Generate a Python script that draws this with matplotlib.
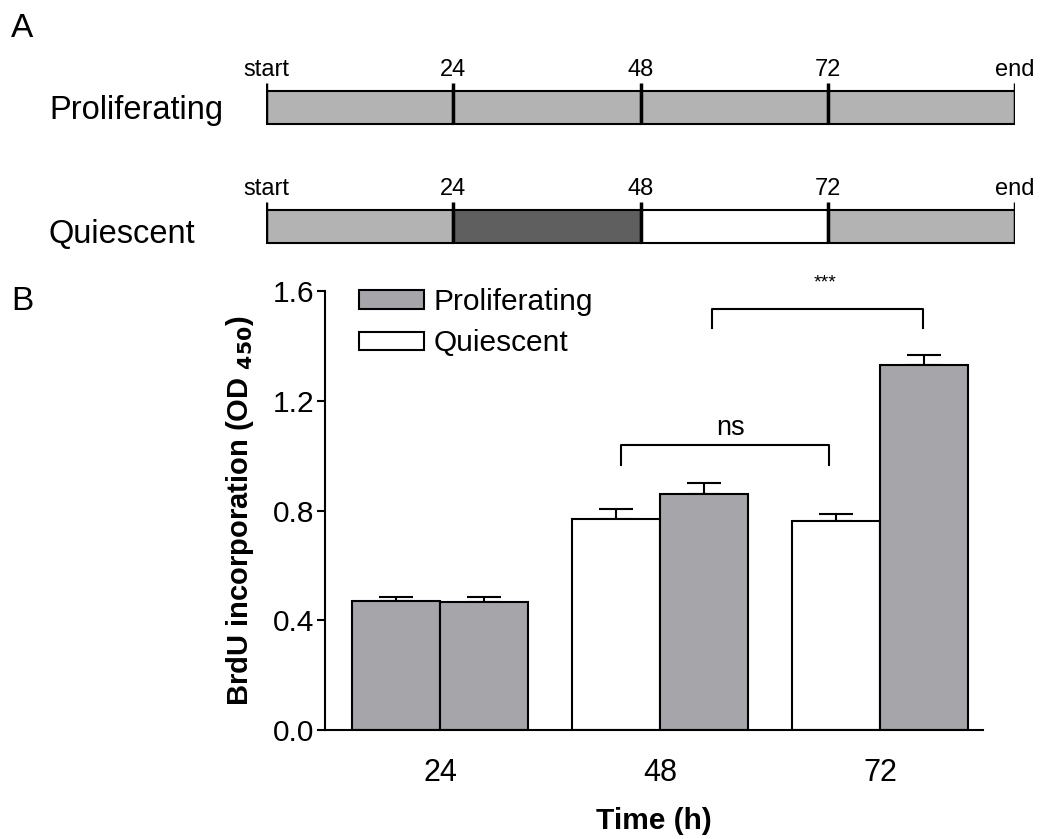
import matplotlib
matplotlib.use("Agg")
import matplotlib.pyplot as plt
import numpy as np
from matplotlib.patches import Patch

plt.rcParams['font.family'] = ['Liberation Sans', 'DejaVu Sans']

# panel A: timeline
hours = [0, 24, 48, 72, 96]
hour_labels = ['start', '24', '48', '72', 'end']
prolif_segments = ['#b3b3b3', '#b3b3b3', '#b3b3b3', '#b3b3b3']
quiesc_segments = ['#b3b3b3', '#5f5f5f', '#ffffff', '#b3b3b3']

# panel B: BrdU incorporation
times = ['24', '48', '72']
quiescent = [0.470, 0.769, 0.762]
quiescent_err = [0.015, 0.036, 0.025]
proliferating = [0.466, 0.860, 1.330]
proliferating_err = [0.019, 0.040, 0.037]
quiescent_colors = ['#a5a5aa', '#ffffff', '#ffffff']

GRAY = '#a5a5aa'


def draw_timeline(ax):
  row_h = 0.277
  rows = {'Proliferating': (1, prolif_segments), 'Quiescent': (0, quiesc_segments)}
  for name, (y, colors) in rows.items():
    for i, c in enumerate(colors):
      ax.barh(y, hours[i + 1] - hours[i], left=hours[i], height=row_h,
              color=c, edgecolor='black', linewidth=1.5)
    top = y + row_h / 2
    ax.vlines(hours, y - row_h / 2, top + 0.07, color='black', linewidth=2.5)
    for h, lab in zip(hours, hour_labels):
      ax.text(h, top + 0.085, lab, ha='center', va='bottom', fontsize=17)
  ax.set_xlim(0, 96)
  ax.set_ylim(-0.197, 1.40)
  ax.axis('off')


def draw_bars(ax):
  x = np.arange(len(times))
  w = 0.4
  ax.bar(x - w / 2, quiescent, width=w, color=quiescent_colors,
         edgecolor='black', linewidth=1.5, zorder=2)
  ax.bar(x + w / 2, proliferating, width=w, color=GRAY,
         edgecolor='black', linewidth=1.5, zorder=2)
  ax.errorbar(x - w / 2, quiescent, yerr=[np.zeros(3), quiescent_err],
              fmt='none', ecolor='black', elinewidth=1.5, capsize=12,
              capthick=1.5, zorder=1)
  ax.errorbar(x + w / 2, proliferating, yerr=[np.zeros(3), proliferating_err],
              fmt='none', ecolor='black', elinewidth=1.5, capsize=12,
              capthick=1.5, zorder=1)

  # significance brackets
  for x0, x1, ytop, yend, label, tx, ty, fs in [
      (0.823, 1.768, 1.039, 0.966, 'ns', 1.32, 1.055, 19.5),
      (1.236, 2.195, 1.534, 1.465, '***', 1.75, 1.60, 14)]:
    ax.plot([x0, x0, x1, x1], [yend, ytop, ytop, yend], color='black',
            linewidth=1.5, clip_on=False)
    ax.text(tx, ty, label, ha='center', va='bottom', fontsize=fs)

  ax.set_xlim(-0.523, 2.468)
  ax.set_ylim(0, 1.6)
  ax.set_yticks([0.0, 0.4, 0.8, 1.2, 1.6])
  ax.set_yticklabels(['0.0', '0.4', '0.8', '1.2', '1.6'])
  ax.set_xticks(x)
  ax.set_xticklabels(times)
  ax.tick_params(axis='y', labelsize=21.5, length=6, width=1.5, pad=2)
  ax.tick_params(axis='x', labelsize=22, length=0, pad=20)
  for s in ['top', 'right']:
    ax.spines[s].set_visible(False)
  for s in ['left', 'bottom']:
    ax.spines[s].set_linewidth(1.5)
  ax.set_xlabel('Time (h)', fontsize=21.5, fontweight='bold', labelpad=14)
  ax.set_ylabel('BrdU incorporation (OD $_{\\mathbf{450}}$)', fontsize=21,
                fontweight='bold', labelpad=12)

  handles = [Patch(facecolor=GRAY, edgecolor='black', linewidth=1.5),
             Patch(facecolor='white', edgecolor='black', linewidth=1.5)]
  ax.legend(handles, ['Proliferating', 'Quiescent'], loc='upper left',
            bbox_to_anchor=(359 / 1048, 1 - 288 / 839),
            bbox_transform=ax.figure.transFigure, frameon=False,
            fontsize=21.5, handlelength=2.17, handleheight=0.57,
            handletextpad=0.33, labelspacing=0.45, borderpad=0,
            borderaxespad=0)


def main():
  fig = plt.figure(figsize=(10.48, 8.39), dpi=100)

  ax_a = fig.add_axes([266 / 1048, 1 - 250 / 839, 749 / 1048, 190 / 839])
  draw_timeline(ax_a)
  fig.text(49 / 1048, 1 - 119 / 839, 'Proliferating', fontsize=23.5,
           ha='left', va='baseline')
  fig.text(49 / 1048, 1 - 243 / 839, 'Quiescent', fontsize=23.5,
           ha='left', va='baseline')
  fig.text(11 / 1048, 1 - 37 / 839, 'A', fontsize=24, ha='left', va='baseline')
  fig.text(11 / 1048, 1 - 310 / 839, 'B', fontsize=24, ha='left', va='baseline')

  ax_b = fig.add_axes([325 / 1048, 1 - 730 / 839, 658 / 1048, 439 / 839])
  draw_bars(ax_b)

  fig.savefig('out.png', dpi=100)


if __name__ == "__main__":
  main()
